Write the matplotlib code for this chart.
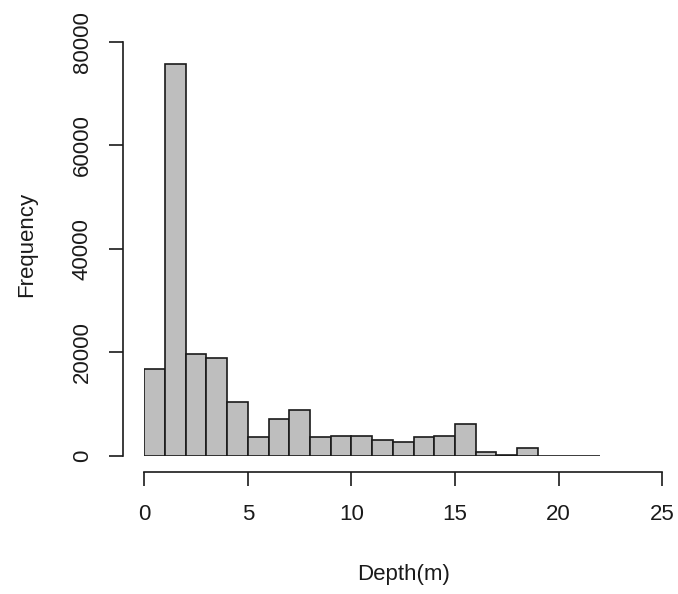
import matplotlib
matplotlib.use("Agg")
import matplotlib.pyplot as plt
import numpy as np

plt.rcParams['font.family'] = ['Liberation Sans', 'DejaVu Sans']

# histogram bins (1 m wide) and counts
bin_edges = np.arange(0, 23, 1)
counts = [16750, 75620, 19710, 18810, 10300, 3600, 7100, 8850, 3550, 3830,
          3800, 2960, 2640, 3540, 3800, 6180, 640, 200, 1480, 0, 0, 0]

x_ticks = [0, 5, 10, 15, 20, 25]
y_ticks = [0, 20000, 40000, 60000, 80000]

fig = plt.figure(figsize=(6.78, 5.94), dpi=100)
ax = fig.add_axes([0.2127, 0.2328, 0.764, 0.697])

ax.bar(bin_edges[:-1], counts, width=1, align='edge',
       color='#bebebe', edgecolor='#1a1a1a', linewidth=1.2)

ax.set_xlim(0, 25)
ax.set_ylim(0, 80000)
ax.set_xticks(x_ticks)
ax.set_yticks(y_ticks)

# R style axes: detached from the plot region
for s in ['top', 'right']:
    ax.spines[s].set_visible(False)
ax.spines['left'].set_position(('outward', 15))
ax.spines['bottom'].set_position(('outward', 12))
for s in ['left', 'bottom']:
    ax.spines[s].set_linewidth(1.2)
    ax.spines[s].set_color('#1a1a1a')

ax.tick_params(axis='both', length=10, width=1.2, color='#1a1a1a',
               labelsize=16, labelcolor='#1a1a1a')
ax.tick_params(axis='x', pad=13)
ax.tick_params(axis='y', pad=12, labelrotation=90)
for lab in ax.get_yticklabels():
    lab.set_va('center')

ax.set_xlabel('Depth(m)', fontsize=16, color='#1a1a1a', labelpad=28)
ax.set_ylabel('Frequency', fontsize=16, color='#1a1a1a')
ax.yaxis.set_label_coords(-0.206, 0.51)

fig.savefig('out.png', dpi=100)
